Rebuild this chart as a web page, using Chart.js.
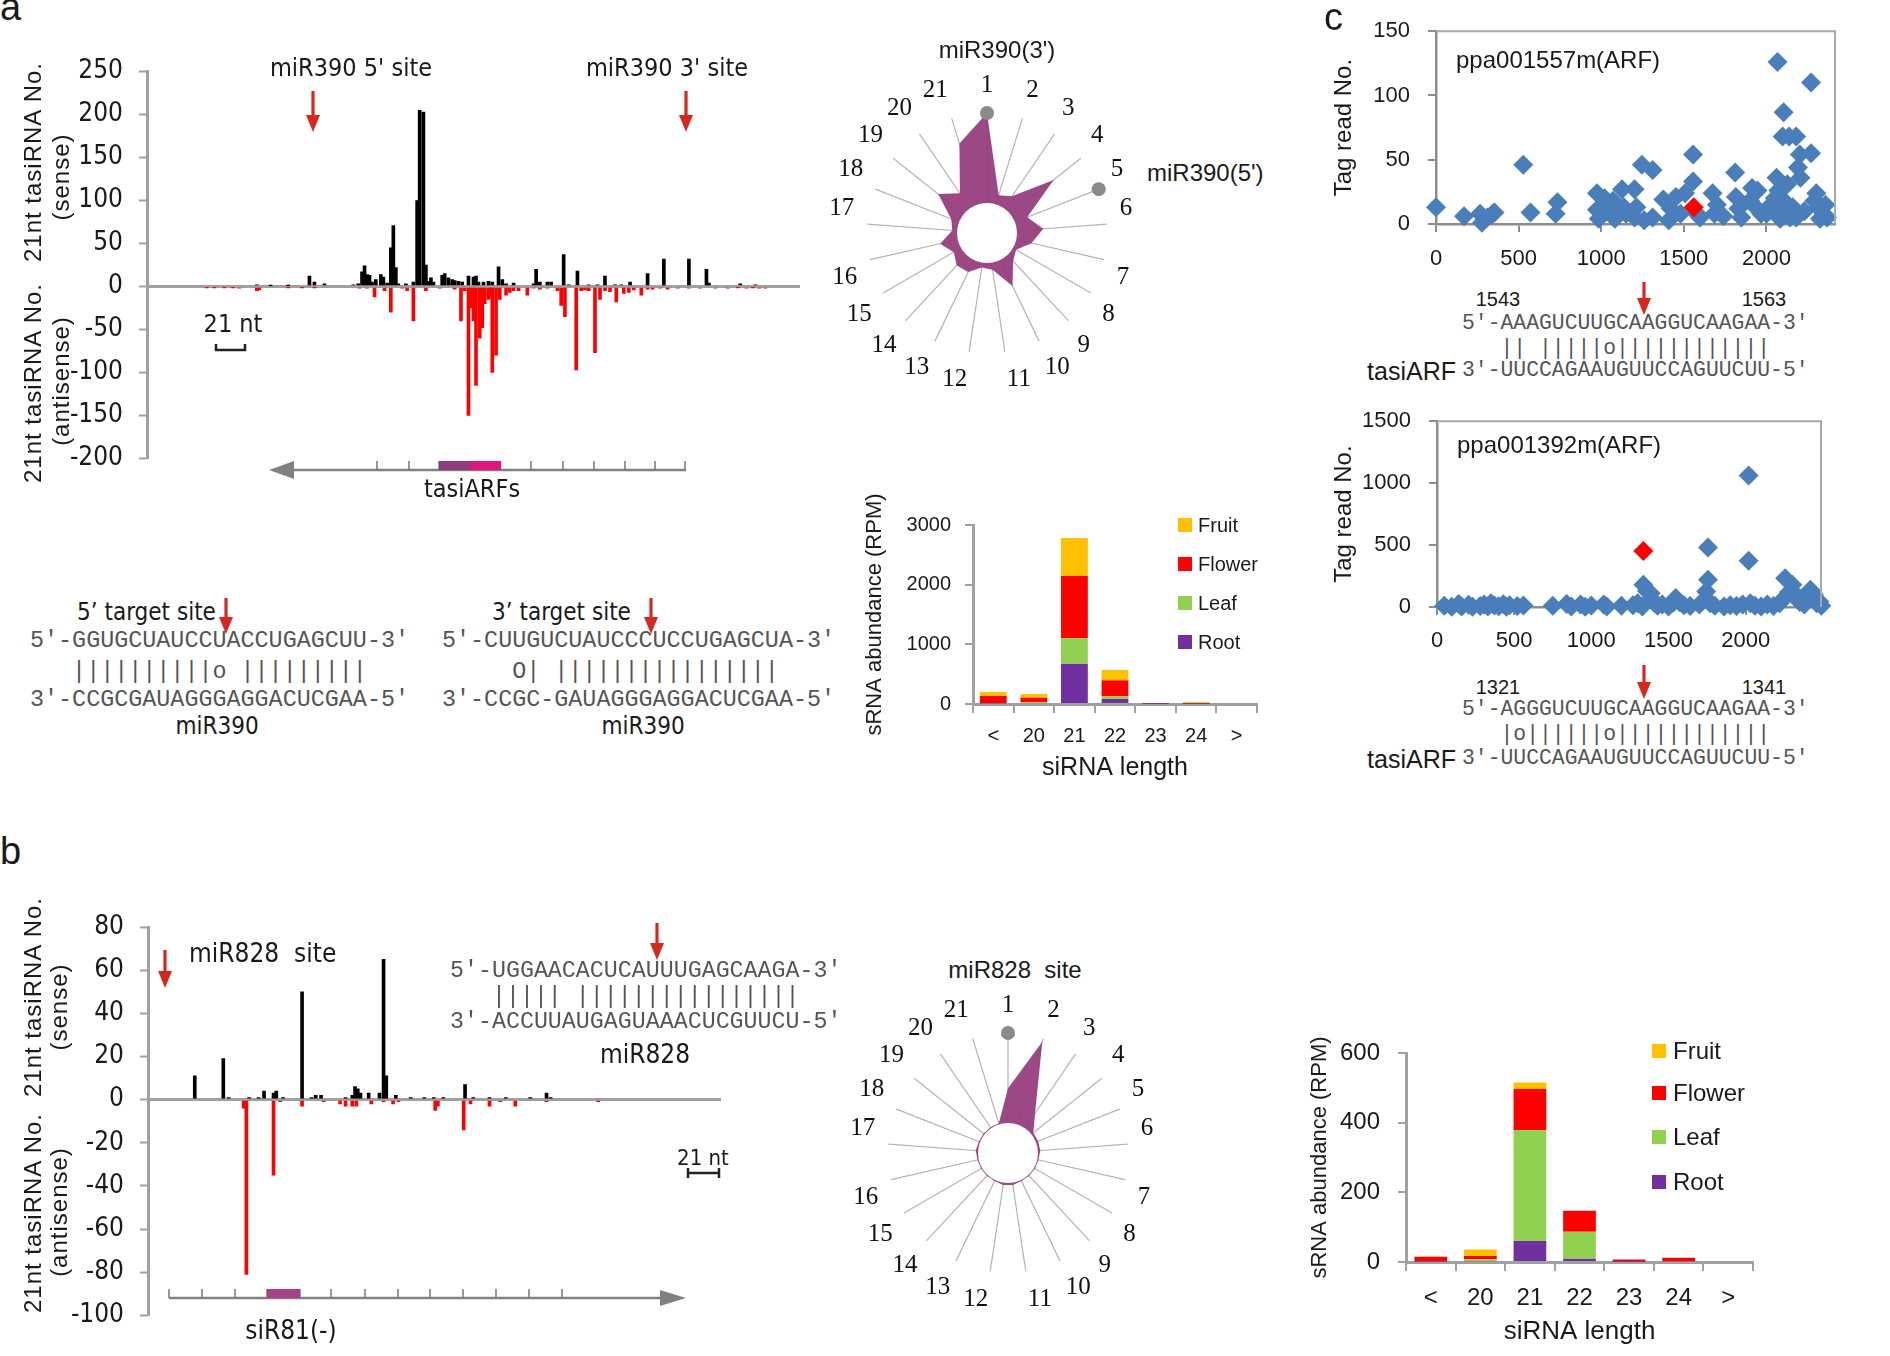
<!DOCTYPE html>
<html><head><meta charset="utf-8">
<script src="https://cdn.jsdelivr.net/npm/chart.js@4.4.1/dist/chart.umd.min.js"></script>
<style>
html,body{margin:0;padding:0;background:#fff;}
#page{position:relative;width:1890px;height:1356px;overflow:hidden;font-family:'Liberation Sans',Arial,sans-serif;color:#1a1a1a;}
canvas{position:absolute;}
.t{position:absolute;white-space:pre;line-height:1;}
.c{transform:translate(-50%,-50%);}
.l{transform:translate(0,-50%);}
.r{transform:translate(-100%,-50%);}
.rot{transform:translate(-50%,-50%) rotate(-90deg);letter-spacing:1px;font-size:24px;}
.mono{font-family:'Liberation Mono','Courier New',monospace;color:#555;}
.nar{font-family:'Liberation Sans Narrow','Arial Narrow','DejaVu Sans Condensed',sans-serif;}
.sq{position:absolute;}
#ov{position:absolute;left:0;top:0;pointer-events:none;}
</style></head>
<body><div id="page">
<canvas id="barA" width="820" height="450" style="left:0;top:40px"></canvas>
<canvas id="barB" width="760" height="452" style="left:0;top:895px"></canvas>
<canvas id="radarA" width="326" height="326" style="left:818px;top:70px"></canvas>
<canvas id="radarB" width="326" height="326" style="left:839px;top:990px"></canvas>
<canvas id="stackA" width="420" height="304" style="left:860px;top:480px"></canvas>
<canvas id="stackB" width="480" height="347" style="left:1300px;top:1000px"></canvas>
<canvas id="scatTop" width="540" height="274" style="left:1330px;top:0px"></canvas>
<canvas id="scatBot" width="520" height="267" style="left:1330px;top:390px"></canvas>

<!-- panel letters -->
<div class="t" style="left:0;top:-12px;font-size:38px;">a</div>
<div class="t" style="left:0;top:832px;font-size:38px;">b</div>
<div class="t" style="left:1324px;top:-2px;font-size:38px;">c</div>

<!-- panel a texts -->
<div class="t rot" style="left:33px;top:162px;">21nt tasiRNA No.</div>
<div class="t rot" style="left:33px;top:383px;">21nt tasiRNA No.</div>
<div class="t rot" style="left:61px;top:177px;">(sense)</div>
<div class="t rot" style="left:61px;top:381px;">(antisense)</div>
<div class="t c nar" style="left:351px;top:67px;font-size:25px;">miR390 5' site</div>
<div class="t c nar" style="left:667px;top:67px;font-size:25px;">miR390 3' site</div>
<div class="t c nar" style="left:233px;top:323px;font-size:25px;">21 nt</div>
<div class="t c nar" style="left:472px;top:488px;font-size:25px;">tasiARFs</div>
<div class="t c" style="left:997px;top:50px;font-size:24px;">miR390(3')</div>
<div class="t l" style="left:1147px;top:173px;font-size:24px;">miR390(5')</div>

<div class="t l nar" style="left:77px;top:612px;font-size:24px;">5’ target site</div>
<div class="t l mono" style="left:30px;top:642px;font-size:23.4px;">5′-GGUGCUAUCCUACCUGAGCUU-3′</div>
<div class="t l mono" style="left:30px;top:673px;font-size:23.4px;">   ||||||||||o |||||||||</div>
<div class="t l mono" style="left:30px;top:701px;font-size:23.4px;">3′-CCGCGAUAGGGAGGACUCGAA-5′</div>
<div class="t c nar" style="left:217px;top:726px;font-size:24px;">miR390</div>
<div class="t l nar" style="left:492px;top:612px;font-size:24px;">3’ target site</div>
<div class="t l mono" style="left:442px;top:642px;font-size:23.4px;">5′-CUUGUCUAUCCCUCCUGAGCUA-3′</div>
<div class="t l mono" style="left:442px;top:673px;font-size:23.4px;">     O| ||||||||||||||||</div>
<div class="t l mono" style="left:442px;top:701px;font-size:23.4px;">3′-CCGC-GAUAGGGAGGACUCGAA-5′</div>
<div class="t c nar" style="left:643px;top:726px;font-size:24px;">miR390</div>

<!-- legend a -->
<div class="sq" style="left:1178px;top:518px;width:14px;height:14px;background:#ffc000"></div>
<div class="sq" style="left:1178px;top:557px;width:14px;height:14px;background:#ff0000"></div>
<div class="sq" style="left:1178px;top:596px;width:14px;height:14px;background:#92d050"></div>
<div class="sq" style="left:1178px;top:635px;width:14px;height:14px;background:#7030a0"></div>
<div class="t l" style="left:1198px;top:525px;font-size:20px;">Fruit</div>
<div class="t l" style="left:1198px;top:564px;font-size:20px;">Flower</div>
<div class="t l" style="left:1198px;top:603px;font-size:20px;">Leaf</div>
<div class="t l" style="left:1198px;top:642px;font-size:20px;">Root</div>

<!-- panel c texts -->
<div class="t l" style="left:1456px;top:60px;font-size:24px;">ppa001557m(ARF)</div>
<div class="t c" style="left:1498px;top:299px;font-size:20px;">1543</div>
<div class="t c" style="left:1764px;top:299px;font-size:20px;">1563</div>
<div class="t l mono" style="left:1462px;top:324px;font-size:21.4px;">5'-AAAGUCUUGCAAGGUCAAGAA-3'</div>
<div class="t l mono" style="left:1462px;top:349px;font-size:21.4px;">   || |||||o||||||||||||</div>
<div class="t r" style="left:1456px;top:371px;font-size:25px;">tasiARF</div>
<div class="t l mono" style="left:1462px;top:371px;font-size:21.4px;">3'-UUCCAGAAUGUUCCAGUUCUU-5'</div>

<div class="t l" style="left:1457px;top:445px;font-size:24px;">ppa001392m(ARF)</div>
<div class="t c" style="left:1498px;top:687px;font-size:20px;">1321</div>
<div class="t c" style="left:1764px;top:687px;font-size:20px;">1341</div>
<div class="t l mono" style="left:1462px;top:710px;font-size:21.4px;">5'-AGGGUCUUGCAAGGUCAAGAA-3'</div>
<div class="t l mono" style="left:1462px;top:735px;font-size:21.4px;">   |o||||||o||||||||||||</div>
<div class="t r" style="left:1456px;top:759px;font-size:25px;">tasiARF</div>
<div class="t l mono" style="left:1462px;top:759px;font-size:21.4px;">3'-UUCCAGAAUGUUCCAGUUCUU-5'</div>

<!-- panel b texts -->
<div class="t rot" style="left:33px;top:997px;">21nt tasiRNA No.</div>
<div class="t rot" style="left:33px;top:1213px;">21nt tasiRNA No.</div>
<div class="t rot" style="left:59px;top:1007px;">(sense)</div>
<div class="t rot" style="left:59px;top:1212px;">(antisense)</div>
<div class="t l nar" style="left:189px;top:953px;font-size:26px;">miR828  site</div>
<div class="t l mono" style="left:450px;top:972px;font-size:23.3px;">5′-UGGAACACUCAUUUGAGCAAGA-3′</div>
<div class="t l mono" style="left:450px;top:998px;font-size:23.3px;">   ||||| ||||||||||||||||</div>
<div class="t l mono" style="left:450px;top:1023px;font-size:23.3px;">3′-ACCUUAUGAGUAAACUCGUUCU-5′</div>
<div class="t c nar" style="left:645px;top:1054px;font-size:26px;">miR828</div>
<div class="t c nar" style="left:703px;top:1158px;font-size:22px;">21 nt</div>
<div class="t c nar" style="left:291px;top:1330px;font-size:26px;">siR81(-)</div>
<div class="t c" style="left:1015px;top:970px;font-size:24px;">miR828  site</div>

<!-- legend b -->
<div class="sq" style="left:1652px;top:1044px;width:14px;height:14px;background:#ffc000"></div>
<div class="sq" style="left:1652px;top:1086px;width:14px;height:14px;background:#ff0000"></div>
<div class="sq" style="left:1652px;top:1130px;width:14px;height:14px;background:#92d050"></div>
<div class="sq" style="left:1652px;top:1175px;width:14px;height:14px;background:#7030a0"></div>
<div class="t l" style="left:1673px;top:1051px;font-size:24px;">Fruit</div>
<div class="t l" style="left:1673px;top:1093px;font-size:24px;">Flower</div>
<div class="t l" style="left:1673px;top:1137px;font-size:24px;">Leaf</div>
<div class="t l" style="left:1673px;top:1182px;font-size:24px;">Root</div>

<svg id="ov" width="1890" height="1356"></svg>
</div>
<script>
// ---------------- DATA ----------------
// Panel a: 21-nt tasiRNA coverage along TAS3 (positions in nt)
const aSenseX = [64,75,89,106,110,118,141,145,148,150,152,154,156,159,163,165,168,171,173,175,177,183,189,192,194,197,199,201,203,205,212,214,217,220,222,225,228,233,237,239,241,245,249,252,257,260,263,269,285,287,290,296,299,309,313,320,329,336,342,350,355,362,376,389,409,423,425,450,462];
const aSenseY = [2,1,1,12,5,3,2,3,17,24,14,13,5,8,14,11,4,45,71,22,3,3,5,100,205,203,25,6,10,5,13,15,10,8,7,6,5,12,11,12,5,5,6,5,23,8,3,4,3,20,5,5,5,37,2,18,2,2,12,2,2,5,15,32,32,20,4,3,2];
const aAntiX = [24,30,38,45,50,64,66,89,100,110,146,152,158,166,171,180,184,189,199,210,222,227,230,233,235,237,239,242,244,246,249,251,252,255,258,263,266,269,273,280,285,290,296,304,307,310,319,323,326,329,334,338,342,346,351,357,361,365,371,376,380,386,392,400,409,418,430,440,448,455,460,465,470];
const aAntiY = [-1,-1,-1,-1,-2,-5,-4,-1,-1,-1,-2,-2,-12,-5,-30,-2,-5,-40,-5,-2,-3,-40,-5,-150,-25,-40,-115,-60,-48,-20,-15,-12,-100,-80,-15,-10,-7,-5,-5,-10,-2,-3,-2,-5,-22,-35,-97,-5,-4,-5,-77,-15,-5,-6,-18,-8,-7,-4,-10,-3,-3,-2,-3,-2,-2,-2,-2,-2,-1,-2,-1,-2,-2];
// Panel b: 21-nt siRNA coverage along siR81 locus
const bSenseX = [11,32,36,51,58,62,69,71,76,90,97,100,104,122,127,129,131,133,139,147,150,152,159,170,180,187,194,210,216,228,240,258,270,273];
const bSenseY = [11,19,1,1,1,4,3,4,1,50,1,2,2,1,2,6,5,3,3,3,65,11,2,1,1,1,1,7,1,1,1,1,3,1];
const bAntiX = [47,49,69,74,90,106,118,122,127,130,141,150,157,161,188,190,209,214,228,236,247,270,308];
const bAntiY = [-4,-81,-35,-1,-3,-1,-2,-3,-3,-3,-2,-1,-2,-1,-5,-3,-14,-2,-3,-1,-3,-1,-1];
// Phasing radar (21 registers)
const phaseLabels = ['1','2','3','4','5','6','7','8','9','10','11','12','13','14','15','16','17','18','19','20','21'];
const phaseA = [100,33,37,71,36,47,38,28,32,49,31,29,36,37,32,40,29,32,52,40,78];
const siteA = [100,null,null,null,100,null,null,null,null,null,null,null,null,null,null,null,null,null,null,null,null];
const phaseB = [54,97,40,27,27,27,26,26,26,26,27,27,26,26,26,26,27,26,26,26,26];
const siteB = [100,null,null,null,null,null,null,null,null,null,null,null,null,null,null,null,null,null,null,null,null];
// siRNA length distribution (RPM)
const lenCats = ['<','20','21','22','23','24','>'];
const rootA = [8,15,676,84,2,2,0];
const leafA = [8,15,430,50,1,2,0];
const flowerA = [118,75,1039,263,5,6,0];
const fruitA = [67,62,637,173,4,22,0];
const rootB = [1,2,60,9,1,2,0];
const leafB = [1,6,319,78,0,0,0];
const flowerB = [13,9,118,60,6,10,0];
const fruitB = [1,19,18,0,0,0,0];
// Panel c: degradome tags
const arf1557X = [0,170,267,278,310,343,354,528,572,724,735,974,974,985,1007,1039,1072,1083,1050,1020,1126,1137,1202,1202,1213,1246,1311,1311,1150,1260,1376,1409,1420,1452,1507,1480,1556,1556,1580,1598,1674,1685,1739,1700,1811,1815,1848,1830,1913,1946,1935,1967,1900,2000,2028,2061,2072,2083,2093,2115,2126,2143,2159,2050,2067,2104,2098,2137,2180,2202,2191,2206,2270,2270,2302,2313,2324,2346,2357,2367,2290,2230,2180];
const arf1557Y = [13,6,8,1,5,8,9,46,9,8,17,24,11,4,8,15,18,4,10,20,27,13,27,5,13,46,42,5,8,3,19,3,12,21,24,8,54,33,8,5,24,8,6,15,40,21,5,12,28,26,13,8,18,8,15,36,26,4,8,17,31,5,13,20,126,87,68,68,68,54,44,36,110,55,24,13,4,8,15,5,18,10,5];
const arf1557SiteX = [1560];
const arf1557SiteY = [13];
const arf1392X = [47,95,140,160,205,230,280,305,330,350,372,400,430,450,470,520,560,750,840,870,930,960,1000,1080,1100,1195,1270,1300,1330,1337,1360,1384,1395,1410,1430,1460,1500,1530,1547,1570,1600,1640,1700,1744,1750,1756,1756,1770,1800,1860,1900,1940,1980,2019,2019,2030,2060,2100,2140,2180,2220,2240,2256,2280,2302,2320,2326,2350,2380,2419,2442,2460,2477,2490];
const arf1392Y = [10,2,25,5,18,3,8,20,4,30,12,6,22,3,15,8,12,10,25,5,20,3,12,20,5,10,15,30,5,180,130,110,60,30,10,20,5,35,72,40,15,8,20,126,60,219,481,30,10,5,15,8,20,374,1062,30,10,5,20,8,30,60,233,120,179,90,99,40,20,139,99,30,45,10];
const arf1392SiteX = [1337];
const arf1392SiteY = [452];
const posTicks = [0,500,1000,1500,2000];

// ---------------- CHARTS ----------------
const NARROW = "'Liberation Sans Narrow','Arial Narrow','DejaVu Sans Condensed',sans-serif";
Chart.defaults.font.family = "'Liberation Sans', Arial, sans-serif";
Chart.defaults.color = '#1a1a1a';
Chart.defaults.animation = false;
const AX = '#a0a0a0';
const pts = (xs, ys) => xs.map((x, i) => ({x: x, y: ys[i]}));
const plain = v => String(v);
const noPlug = {legend: {display: false}, tooltip: {enabled: false}};

function coverage(id, sx, sy, ax, ay, xMax, yMin, yMax, step, yw, pad) {
  new Chart(document.getElementById(id), {
    type: 'bar',
    data: {datasets: [
      {label: 'sense', data: pts(sx, sy), backgroundColor: '#000', barThickness: 3, grouped: false},
      {label: 'antisense', data: pts(ax, ay), backgroundColor: '#ff0000', barThickness: 3, grouped: false}
    ]},
    options: {responsive: false, animation: false, layout: {padding: pad}, plugins: noPlug,
      scales: {
        x: {type: 'linear', min: 0, max: xMax, display: false},
        y: {min: yMin, max: yMax,
            ticks: {stepSize: step, font: {family: NARROW, size: 26}, color: '#1a1a1a', padding: 16, callback: plain},
            grid: {color: c => (c.tick && c.tick.value === 0) ? AX : 'rgba(0,0,0,0)',
                   lineWidth: c => (c.tick && c.tick.value === 0) ? 3 : 1,
                   tickColor: AX, tickLength: 8, tickWidth: 2},
            border: {color: AX, width: 3},
            afterFit(s) { s.width = yw; }}
      }}
  });
}
coverage('barA', aSenseX, aSenseY, aAntiX, aAntiY, 474, -200, 250, 50, 147, {left: 0, top: 27, right: 20, bottom: 23});
coverage('barB', bSenseX, bSenseY, bAntiX, bAntiY, 375, -100, 80, 20, 148, {left: 0, top: 32, right: 39, bottom: 24});

const holePlugin = {id: 'hole', afterDatasetsDraw(chart) {
  const s = chart.scales.r; const ctx = chart.ctx;
  ctx.save(); ctx.fillStyle = '#fff'; ctx.beginPath();
  ctx.arc(s.xCenter, s.yCenter, s.getDistanceFromCenterForValue(25), 0, Math.PI * 2); ctx.fill(); ctx.restore();
}};
function radar(id, vals, sites) {
  new Chart(document.getElementById(id), {
    type: 'radar',
    data: {labels: phaseLabels, datasets: [
      {label: 'site', data: sites, order: 0, showLine: false, fill: false, pointRadius: 7, pointBackgroundColor: '#8a8a8a', pointBorderWidth: 0, borderWidth: 0},
      {label: 'phase', data: vals, order: 1, fill: true, backgroundColor: 'rgba(150,62,126,0.95)', borderWidth: 0, pointRadius: 0}
    ]},
    options: {responsive: false, animation: false, plugins: noPlug,
      scales: {r: {min: 0, max: 100, ticks: {display: false}, grid: {display: false},
        angleLines: {color: '#b4b4b4', lineWidth: 1.2},
        pointLabels: {font: {family: "'Liberation Serif','Times New Roman',serif", size: 25}, color: '#111', padding: 13}}}},
    plugins: [holePlugin]
  });
}
radar('radarA', phaseA, siteA);
radar('radarB', phaseB, siteB);

function stacked(id, root, leaf, flower, fruit, yMax, step, cfg) {
  new Chart(document.getElementById(id), {
    type: 'bar',
    data: {labels: lenCats, datasets: [
      {label: 'Root', data: root, backgroundColor: '#7030a0'},
      {label: 'Leaf', data: leaf, backgroundColor: '#92d050'},
      {label: 'Flower', data: flower, backgroundColor: '#ff0000'},
      {label: 'Fruit', data: fruit, backgroundColor: '#ffc000'}
    ]},
    options: {responsive: false, animation: false, layout: {padding: cfg.pad}, plugins: noPlug,
      datasets: {bar: {categoryPercentage: 1, barPercentage: 0.66}},
      scales: {
        x: {stacked: true, grid: {offset: true, drawOnChartArea: false, color: AX, lineWidth: 2, tickLength: 9},
            border: {color: AX, width: 3},
            ticks: {font: {size: cfg.tick}, color: '#1a1a1a', padding: cfg.xpad},
            title: {display: true, text: 'siRNA length', font: {size: cfg.xt}, color: '#1a1a1a', padding: {top: 0, bottom: cfg.xtp}},
            afterFit(s) { s.height = cfg.xh; }},
        y: {stacked: true, min: 0, max: yMax,
            ticks: {stepSize: step, font: {size: cfg.tick}, color: '#1a1a1a', padding: cfg.ypad, callback: plain},
            grid: {drawOnChartArea: false, color: AX, lineWidth: 2, tickLength: 8},
            border: {color: AX, width: 3},
            title: {display: true, text: 'sRNA abundance (RPM)', font: {size: 22}, color: '#1a1a1a', padding: {top: cfg.ytp, bottom: 0}},
            afterFit(s) { s.width = cfg.yw; }}
      }}
  });
}
stacked('stackA', rootA, leafA, flowerA, fruitA, 3000, 1000,
  {pad: {left: 0, top: 45, right: 23, bottom: 0}, tick: 20, xpad: 11, xt: 25, xtp: 1, xh: 80, ypad: 14, ytp: 2, yw: 113});
stacked('stackB', rootB, leafB, flowerB, fruitB, 600, 200,
  {pad: {left: 0, top: 53, right: 27, bottom: 0}, tick: 24, xpad: 13, xt: 26, xtp: 0, xh: 85, ypad: 18, ytp: 7, yw: 106});

const framePlugin = {id: 'frame', afterDraw(chart) {
  const {ctx, chartArea: {left, top, right, bottom}} = chart;
  ctx.save(); ctx.strokeStyle = '#a8a8a8'; ctx.lineWidth = 2; ctx.beginPath();
  ctx.moveTo(left, top); ctx.lineTo(right, top); ctx.lineTo(right, bottom); ctx.stroke(); ctx.restore();
}};
function degradome(id, bx, by, rx, ry, xMax, yMax, step, cfg) {
  new Chart(document.getElementById(id), {
    type: 'scatter',
    data: {datasets: [
      {label: 'cleavage site', data: pts(rx, ry), pointStyle: 'rectRot', pointRadius: 10, backgroundColor: '#ff0000', borderWidth: 0, clip: false},
      {label: 'tags', data: pts(bx, by), pointStyle: 'rectRot', pointRadius: 10, backgroundColor: '#4a7ebb', borderWidth: 0, clip: false}
    ]},
    options: {responsive: false, animation: false, layout: {padding: cfg.pad}, plugins: noPlug,
      scales: {
        x: {type: 'linear', min: 0, max: xMax,
            ticks: {font: {size: 22}, color: '#1a1a1a', padding: cfg.xpad, maxRotation: 0, autoSkip: false, callback: plain},
            afterBuildTicks(s) { s.ticks = posTicks.map(v => ({value: v})); },
            grid: {drawOnChartArea: false, color: '#8c8c8c', lineWidth: 2, tickLength: 8},
            border: {color: '#8c8c8c', width: 2.5},
            afterFit(s) { s.height = 50; }},
        y: {min: 0, max: yMax,
            ticks: {stepSize: step, font: {size: 22}, color: '#1a1a1a', padding: 18, callback: plain},
            grid: {drawOnChartArea: false, color: '#8c8c8c', lineWidth: 2, tickLength: 8},
            border: {color: '#8c8c8c', width: 2.5},
            title: {display: true, text: 'Tag read No.', font: {size: 24}, color: '#1a1a1a', padding: {top: 0, bottom: 0}},
            afterFit(s) { s.width = cfg.yw; }}
      }},
    plugins: [framePlugin]
  });
}
degradome('scatTop', arf1557X, arf1557Y, arf1557SiteX, arf1557SiteY, 2415, 150, 50,
  {pad: {left: 0, top: 29, right: 35, bottom: 0}, xpad: 14, yw: 106});
degradome('scatBot', arf1392X, arf1392Y, arf1392SiteX, arf1392SiteY, 2488, 1500, 500,
  {pad: {left: 0, top: 27, right: 29, bottom: 0}, xpad: 13, yw: 107});

// ---------------- ANNOTATION OVERLAY ----------------
(function () {
  const RED = '#d6281f', GR = '#808080';
  let s = '';
  const arrow = (x, y1, y2) => {
    s += `<line x1="${x}" y1="${y1}" x2="${x}" y2="${y2 - 14}" stroke="${RED}" stroke-width="3.2"/>`;
    s += `<polygon points="${x - 7},${y2 - 17} ${x + 7},${y2 - 17} ${x},${y2}" fill="${RED}"/>`;
  };
  arrow(313, 91, 132); arrow(686, 91, 132);
  arrow(226, 598, 634); arrow(651, 598, 634);
  arrow(1644, 282, 315); arrow(1644, 665, 699);
  arrow(165, 950, 988); arrow(657, 923, 960);
  // gene model a (tasiARFs)
  s += `<line x1="292" y1="470" x2="686" y2="470" stroke="${GR}" stroke-width="2.5"/>`;
  s += `<polygon points="269,470 294,461 294,479" fill="${GR}"/>`;
  [377, 409, 439, 471, 500, 531, 563, 594, 625, 655, 685].forEach(x => { s += `<line x1="${x}" y1="461" x2="${x}" y2="470" stroke="${GR}" stroke-width="1.6"/>`; });
  s += `<rect x="439" y="461" width="32" height="9" fill="#8e3d7c"/><rect x="471" y="461" width="30" height="9" fill="#e0167e"/>`;
  // gene model b (siR81)
  s += `<line x1="169" y1="1298" x2="664" y2="1298" stroke="${GR}" stroke-width="2.5"/>`;
  s += `<polygon points="686,1298 660,1290 660,1306" fill="${GR}"/>`;
  [169, 202, 235, 267, 300, 331, 365, 398, 430, 463, 496, 529, 562].forEach(x => { s += `<line x1="${x}" y1="1289" x2="${x}" y2="1298" stroke="${GR}" stroke-width="1.6"/>`; });
  s += `<rect x="267" y="1289" width="33" height="9" fill="#a8418c"/>`;
  // 21 nt scale bars
  s += `<path d="M216 344 L216 350 L245 350 L245 344" fill="none" stroke="#222" stroke-width="2.5"/>`;
  s += `<path d="M688 1173 L719 1173 M688 1168 L688 1178 M719 1168 L719 1178" fill="none" stroke="#222" stroke-width="2.5"/>`;
  document.getElementById('ov').innerHTML = s;
})();
</script>
</body></html>
